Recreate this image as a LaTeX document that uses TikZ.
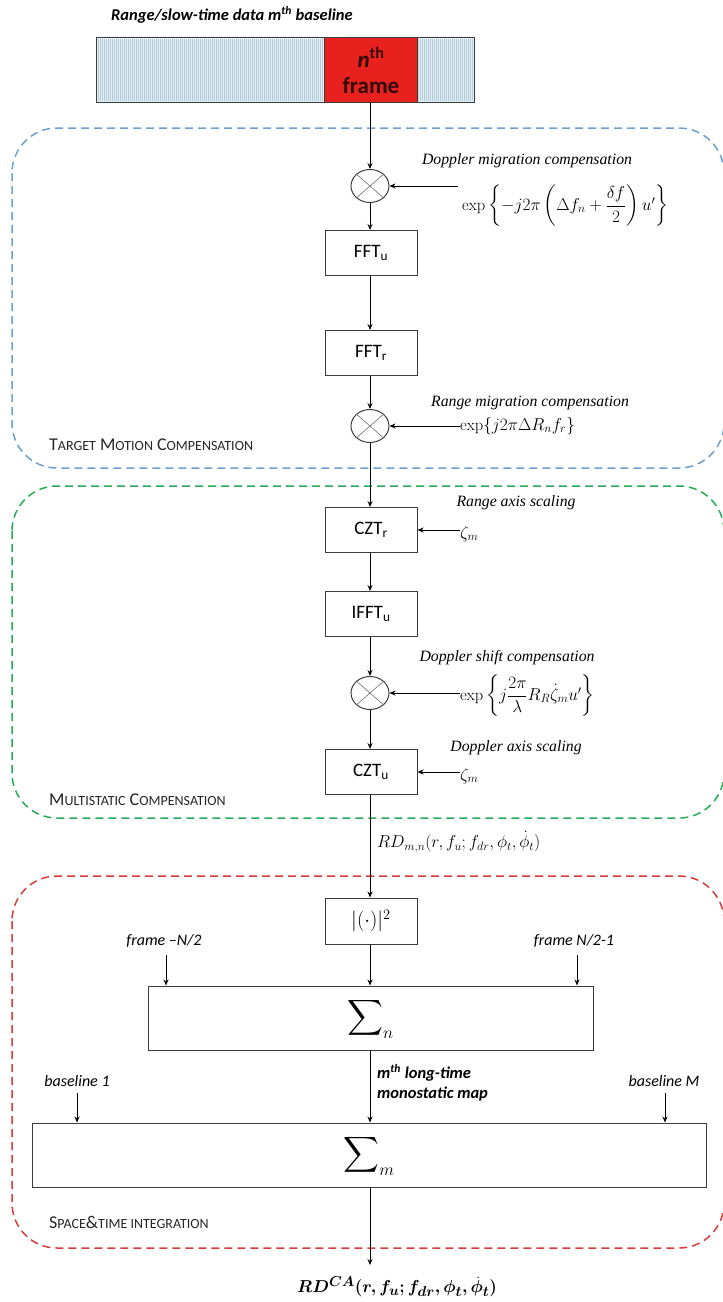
\documentclass[tikz,border=0pt]{standalone}
\usepackage{amsmath}
\usepackage{fontspec}
\usepackage{bm}
\usetikzlibrary{arrows.meta,shapes.geometric}
\newfontfamily\carl{Carlito}
\newfontfamily\tms{Liberation Serif}
\newcommand{\scl}[1]{{\fontsize{14}{16}\selectfont #1}}
\definecolor{boxc}{RGB}{60,60,60}
\definecolor{bluec}{RGB}{110,160,205}
\definecolor{greenc}{RGB}{40,170,90}
\definecolor{redc}{RGB}{215,60,60}
\definecolor{barfill}{RGB}{228,238,245}
\definecolor{stripec}{RGB}{180,204,218}
\definecolor{redf}{RGB}{232,32,30}
\definecolor{darkred}{RGB}{50,10,10}
\tikzset{
  box/.style={draw=boxc, line width=1pt, minimum width=92, minimum height=45, inner sep=0pt, font=\carl\fontsize{19}{21}\selectfont},
  mult/.style={ellipse, draw=boxc, line width=1pt, minimum width=38, minimum height=33, inner sep=0pt},
  arr/.style={-{Stealth[length=6pt,width=5pt]}, line width=0.9pt},
  note/.style={font=\tms\itshape\fontsize{15.75}{17}\selectfont, inner sep=0pt},
  eq/.style={font=\fontsize{16.5}{18}\selectfont, inner sep=0pt},
  inlab/.style={font=\carl\itshape\fontsize{16}{18}\selectfont, inner sep=0pt},
  sec/.style={font=\carl\fontsize{18}{20}\selectfont, inner sep=0pt, anchor=west, text=black!85},
  region/.style={line width=1.5pt, dash pattern=on 8pt off 5pt, rounded corners=45pt},
}
\begin{document}
\begin{tikzpicture}[x=1pt,y=-1pt]
\useasboundingbox (0,0) rectangle (723,1302);
\clip (0,0) rectangle (723,1302);
% regions
\draw[region, bluec] (12,128) rectangle (724,468);
\draw[region, greenc] (12,486) rectangle (724,818);
\draw[region, redc] (12,876) rectangle (724,1248);
% title
\node[font=\carl\bfseries\itshape\fontsize{16.5}{18}\selectfont, anchor=west, inner sep=0pt] (title) at (111,15) {Range/slow-time data m\textsuperscript{th} baseline};
% data bar
\node[minimum width=377, minimum height=64, inner sep=0pt] (bar) at (285.5,70) {};
\fill[barfill] (bar.south west) rectangle (bar.north east);
\foreach \x in {98,100,...,473} \draw[stripec, line width=0.5pt] (\x,39) -- (\x,101);
\node[fill=redf, minimum width=92, minimum height=64, inner sep=0pt, align=center, text=darkred, font=\carl\bfseries\fontsize{23}{25}\selectfont] (frame) at (371,70) {\textit{n}\textsuperscript{th}\\[1pt]frame};
\draw[boxc, line width=1pt] (bar.south west) rectangle (bar.north east);
\draw[boxc, line width=0.8pt] (frame.north west) -- (frame.south west) (frame.north east) -- (frame.south east);
% main chain
\node[mult] (c1) at (370,186) {};
\node[box] (ffu) at (371,253) {FFT\textsubscript{u}};
\node[box] (ffr) at (371,353) {FFT\textsubscript{r}};
\node[mult] (c2) at (370,426) {};
\node[box] (cztr) at (371,530) {CZT\textsubscript{r}};
\node[box] (ifu) at (371,614) {IFFT\textsubscript{u}};
\node[mult] (c3) at (370,693) {};
\node[box] (cztu) at (371,772) {CZT\textsubscript{u}};
\node[box, minimum height=46] (pow) at (371,921) {\fontsize{20}{22}\selectfont$|(\cdot)|^2$};
\node[box, minimum width=445, minimum height=64] (sumn) at (370.5,1018) {\fontsize{26}{28}\selectfont$\displaystyle\sum\nolimits_{n}$\hspace{16pt}};
\node[box, minimum width=674, minimum height=64] (summ) at (369,1155) {\fontsize{26}{28}\selectfont$\displaystyle\sum\nolimits_{m}$\hspace{10pt}};
\foreach \c in {c1,c2,c3} {
  \draw[boxc!75, line width=0.6pt] (\c.north west) -- (\c.south east) (\c.north east) -- (\c.south west);
}
\draw[arr] (frame.south -| c1) -- (c1.north);
\draw[arr] (c1.south) -- (ffu.north -| c1);
\draw[arr] (ffu.south -| c1) -- (ffr.north -| c1);
\draw[arr] (ffr.south -| c1) -- (c2.north);
\draw[arr] (c2.south) -- (cztr.north -| c2);
\draw[arr] (cztr.south -| c2) -- (ifu.north -| c2);
\draw[arr] (ifu.south -| c2) -- (c3.north);
\draw[arr] (c3.south) -- (cztu.north -| c3);
\draw[arr] (cztu.south -| c3) -- (pow.north -| c3);
\draw[arr] (pow.south -| c3) -- (sumn.north -| c3);
\draw[arr] (sumn.south -| c3) -- (summ.north -| c3);
\coordinate (out) at (370,1265);
\draw[arr] (summ.south -| out) -- (out);
% side inputs
\node[note] (l1) at (527,161) {Doppler migration compensation};
\node[eq, anchor=west] (e1) at (462,206) {$\exp\left\{-j2\pi\left(\Delta f_n+\dfrac{\delta f}{2}\right)u'\right\}$};
\coordinate (e1a) at (458,186);
\draw[arr] (e1a) -- (c1.east);
\node[note] (l2) at (530,403) {Range migration compensation};
\node[eq, anchor=west] (e2) at (460,426) {$\exp\{j2\pi\Delta R_n f_r\}$};
\draw[arr] (e2.west |- c2) -- (c2.east);
\node[note] (l3) at (507,658) {Doppler shift compensation};
\node[eq, anchor=west] (e3) at (460,696) {$\exp\left\{j\dfrac{2\pi}{\lambda}R_R\dot{\zeta}_m u'\right\}$};
\draw[arr] (e3.west |- c3) -- (c3.east);
\node[note] (l4) at (516,503) {Range axis scaling};
\node[eq, anchor=west] (z1) at (460,534) {$\zeta_m$};
\draw[arr] (z1.west |- cztr) -- (cztr.east);
\node[note] (l5) at (516,748) {Doppler axis scaling};
\node[eq, anchor=west] (z2) at (460,776) {$\zeta_m$};
\draw[arr] (z2.west |- cztu) -- (cztu.east);
% RD label
\node[font=\fontsize{18}{20}\selectfont, inner sep=0pt, anchor=west] (rd) at (377,842) {$RD_{m,n}(r,f_u;f_{dr},\phi_t,\dot{\phi}_t)$};
% frame inputs
\node[inlab] (fl) at (164,941) {frame \textendash N/2};
\node[inlab] (fr) at (574,941) {frame N/2-1};
\coordinate (fla) at (166,955);
\coordinate (fra) at (577,955);
\draw[arr] (fla) -- (fla |- sumn.north);
\draw[arr] (fra) -- (fra |- sumn.north);
% baseline inputs
\node[inlab] (b1) at (77,1081) {baseline 1};
\node[inlab] (bm) at (664,1081) {baseline M};
\coordinate (b1a) at (77,1093);
\coordinate (bma) at (665,1093);
\draw[arr] (b1a) -- (b1a |- summ.north);
\draw[arr] (bma) -- (bma |- summ.north);
\node[font=\carl\bfseries\itshape\fontsize{16.5}{20}\selectfont, anchor=west, align=left, inner sep=0pt] (mono) at (377,1083) {m\textsuperscript{th} long-time\\monostatic map};
% section labels
\node[sec] (s1) at (49,445) {T\scl{ARGET} M\scl{OTION} C\scl{OMPENSATION}};
\node[sec] (s2) at (49,800) {M\scl{ULTISTATIC} C\scl{OMPENSATION}};
\node[sec] (s3) at (49,1222) {S\scl{PACE}\&\scl{TIME INTEGRATION}};
% output
\node[font=\fontsize{19}{21}\selectfont, inner sep=0pt] (res) at (397,1287) {$\bm{RD^{CA}(r,f_u;f_{dr},\phi_t,\dot{\phi}_t)}$};
\end{tikzpicture}
\end{document}
